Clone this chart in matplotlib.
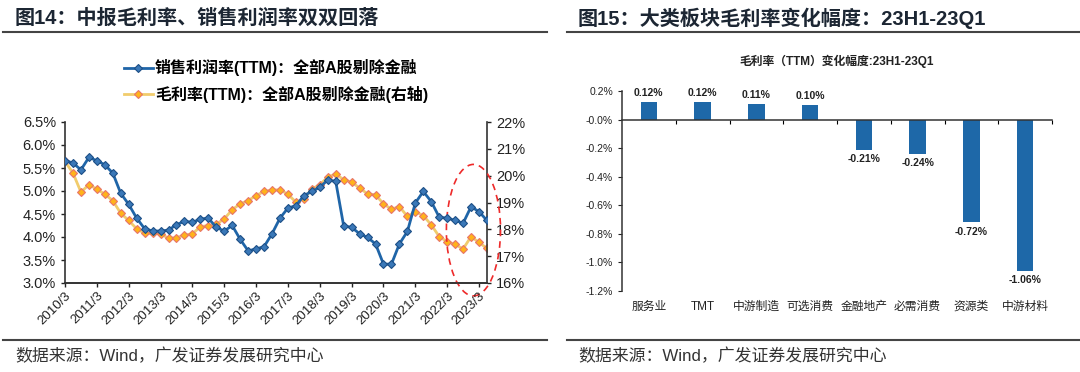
import numpy as np
import matplotlib
matplotlib.use("Agg")
import matplotlib.pyplot as plt
from matplotlib.lines import Line2D
from matplotlib.patches import Ellipse

plt.rcParams['font.family'] = ['Liberation Sans', 'Noto Sans CJK SC', 'DejaVu Sans']
plt.rcParams['axes.unicode_minus'] = False

# Data: quarterly 2010Q1 - 2023Q2
net_margin = [5.66, 5.61, 5.46, 5.73, 5.66, 5.57, 5.39, 4.95, 4.71, 4.41,
              4.18, 4.13, 4.13, 4.15, 4.27, 4.34, 4.32, 4.39, 4.41, 4.21,
              4.13, 4.25, 3.95, 3.70, 3.74, 3.79, 4.07, 4.41, 4.63, 4.68,
              4.90, 4.99, 5.08, 5.24, 5.21, 4.24, 4.21, 4.07, 3.99, 3.85,
              3.41, 3.41, 3.85, 4.12, 4.74, 4.99, 4.77, 4.43, 4.41, 4.36,
              4.30, 4.66, 4.55, 4.36]
gross_margin = [20.53, 20.10, 19.39, 19.66, 19.50, 19.31, 19.07, 18.60, 18.33, 18.02,
                17.85, 17.85, 17.83, 17.67, 17.69, 17.79, 17.83, 18.10, 18.14, 18.19,
                18.39, 18.73, 18.95, 19.07, 19.26, 19.41, 19.47, 19.47, 19.31, 19.01,
                19.14, 19.51, 19.66, 19.95, 20.06, 19.85, 19.76, 19.54, 19.32, 19.29,
                18.95, 18.75, 18.85, 18.48, 18.66, 18.51, 18.17, 17.73, 17.54, 17.44,
                17.27, 17.73, 17.51, 17.29]
year_labels = [f"{y}/3" for y in range(2010, 2024)]

sectors = ["服务业", "TMT", "中游制造", "可选消费", "金融地产", "必需消费", "资源类", "中游材料"]
change = [0.12, 0.12, 0.11, 0.10, -0.21, -0.24, -0.72, -1.06]

BLUE = "#1f65a8"
GOLD = "#f1cc6c"
TITLE_C = "#1c2633"

fig = plt.figure(figsize=(10.8, 3.72), dpi=100)

# ---- headers / footers
fig.text(15 / 1080, 1 - 18 / 372, "图14：中报毛利率、销售利润率双双回落", fontsize=14.5,
         fontweight='bold', color=TITLE_C, va='center')
fig.text(578 / 1080, 1 - 18 / 372, "图15：大类板块毛利率变化幅度：23H1-23Q1", fontsize=14.5,
         fontweight='bold', color=TITLE_C, va='center')
for x0, x1 in [(3, 547), (567, 1080)]:
    fig.add_artist(Line2D([x0 / 1080, x1 / 1080], [1 - 32 / 372] * 2, color='#444444', lw=1.5))
    fig.add_artist(Line2D([x0 / 1080, x1 / 1080], [1 - 340 / 372] * 2, color='#444444', lw=1.5))
fig.text(15 / 1080, 1 - 356 / 372, "数据来源：Wind，广发证券发展研究中心", fontsize=12.2,
         color='#333333', va='center')
fig.text(578 / 1080, 1 - 356 / 372, "数据来源：Wind，广发证券发展研究中心", fontsize=12.2,
         color='#333333', va='center')

# ---- left chart
ax = fig.add_axes([65 / 1080, 1 - 283 / 372, 422 / 1080, 161 / 372])
ax2 = ax.twinx()
x = np.arange(len(net_margin))
ax.plot(x, net_margin, color=BLUE, lw=2, marker='D', ms=4.5, mfc='#3a78b8',
        mec='#1d4f86', mew=0.8, zorder=3, label="销售利润率(TTM)：全部A股剔除金融")
ax2.plot(x, gross_margin, color=GOLD, lw=2, marker='D', ms=4.5, mfc='#ffb31a',
         mec='#e8756a', mew=0.8, zorder=2, label="毛利率(TTM)：全部A股剔除金融(右轴)")
ax.set_zorder(ax2.get_zorder() + 1)
ax.patch.set_visible(False)

ax.set_xlim(0, len(net_margin) - 1)
ax.set_ylim(3.0, 6.5)
ax.set_yticks(np.arange(3.0, 6.51, 0.5))
ax.set_yticklabels([f"{v:.1f}%" for v in np.arange(3.0, 6.51, 0.5)])
ax2.set_ylim(16, 22)
ax2.set_yticks(range(16, 23))
ax2.set_yticklabels([f"{v}%" for v in range(16, 23)])
ax.set_xticks(np.arange(0, len(net_margin), 4))
ax.set_xticklabels(year_labels, rotation=45, ha='right', rotation_mode='anchor')
for a in (ax, ax2):
    a.spines['top'].set_visible(False)
    a.tick_params(labelsize=10.5, colors='#222222', length=3, width=1)
ax.spines['right'].set_visible(False)
ax2.spines['left'].set_visible(False)
for a in (ax, ax2):
    for s in a.spines.values():
        s.set_color('#333333')
        s.set_linewidth(1.2)
ax.tick_params(axis='x', labelsize=9.5, pad=2)

h1, l1 = ax.get_legend_handles_labels()
h2, l2 = ax2.get_legend_handles_labels()
ax.legend(h1 + h2, l1 + l2, loc='lower center', bbox_to_anchor=(0.5, 1.08), frameon=False,
          prop={'size': 11.5, 'weight': 'bold'}, handlelength=1.8, labelspacing=0.6,
          borderaxespad=0, handletextpad=0.15)

ax2.add_patch(Ellipse((51.3, 17.97), 6.8, 4.9, fill=False, ec='#ee2a2a', ls=(0, (4, 3)),
                      lw=1.2, clip_on=False, zorder=5))

# ---- right chart
bx = fig.add_axes([622 / 1080, 1 - 291 / 372, 430 / 1080, 200 / 372])
xb = np.arange(len(sectors))
bars = bx.bar(xb, change, width=0.31, color='#1e68a8', zorder=2)
bx.bar_label(bars, labels=[f"{v:.2f}%" for v in change], padding=3, fontsize=7.5,
             fontweight='bold', color='#222222')
bx.set_xlim(-0.5, len(sectors) - 0.5)
bx.set_ylim(-1.2, 0.2)
yt = np.round(np.arange(-1.2, 0.21, 0.2), 1)
bx.set_yticks(yt)
bx.set_yticklabels([f"{v:.1f}%" for v in yt])
bx.spines['top'].set_visible(False)
bx.spines['right'].set_visible(False)
bx.spines['bottom'].set_position(('data', 0))
for s in bx.spines.values():
    s.set_color('#333333')
    s.set_linewidth(1.1)
bx.set_xticks(np.arange(0.5, len(sectors), 1))
bx.set_xticklabels([])
bx.tick_params(axis='x', length=3, direction='out')
bx.tick_params(axis='y', labelsize=7.5, colors='#222222', length=3)
trans = bx.get_xaxis_transform()
for i, name in enumerate(sectors):
    bx.text(i, -0.08, name, transform=trans, ha='center', va='center', fontsize=8.5,
            color='#222222')
bx.set_title("毛利率（TTM）变化幅度:23H1-23Q1", fontsize=8.5, fontweight='bold',
             color='#222222', pad=19)

fig.savefig("out.png", dpi=100)
